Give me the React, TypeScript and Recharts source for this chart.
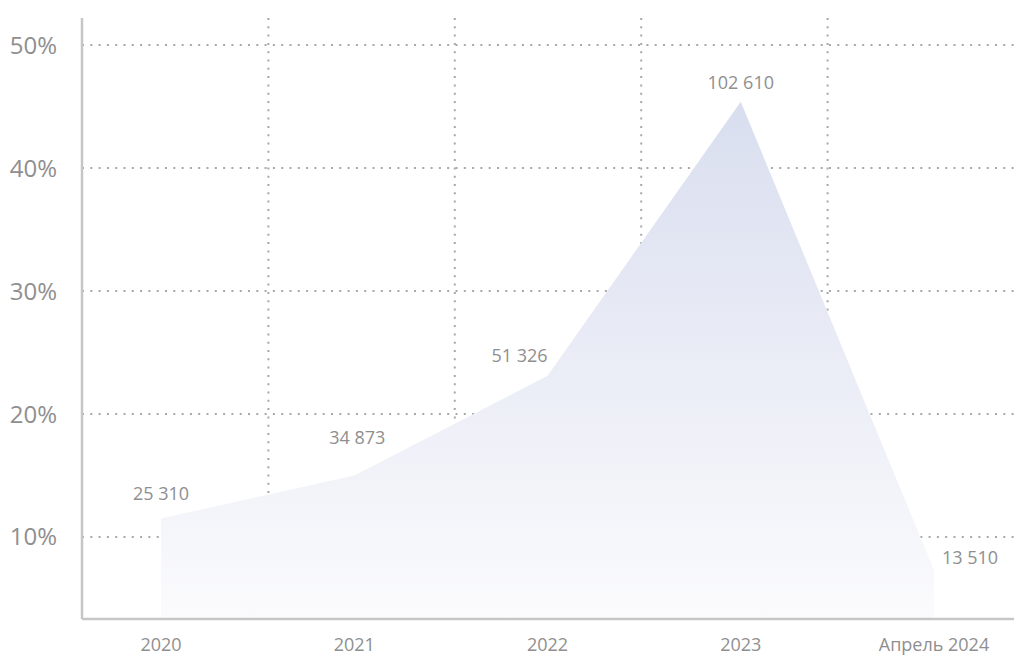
import React from 'react'
import {
  AreaChart,
  Area,
  XAxis,
  YAxis,
  CartesianGrid,
  LabelList,
} from 'recharts'

// periods on the x axis
const years = ['2020', '2021', '2022', '2023', 'Апрель 2024']
// share of total, %
const shares = [11.5, 15.0, 23.1, 45.4, 7.3]
// absolute counts shown above the points
const counts = [25310, 34873, 51326, 102610, 13510]
const yTicks = [10, 20, 30, 40, 50]
const yDomain = [3.33, 52.2]

const data = years.map((year, i) => ({
  year,
  share: shares[i],
  count: counts[i],
}))

const FONT = '"Open Sans", sans-serif'
const TEXT = '#8f8f8f'

// manual label nudges (the source chart has hand-placed labels)
const labelNudge: [number, number][] = [
  [0, -26],
  [3, -38],
  [-28, -21],
  [0, -20],
  [36, -13],
]

const fmt = (n: number) => String(n).replace(/\B(?=(\d{3})+(?!\d))/g, ' ')

const renderLabel = (props: any) => {
  const { x, y, value, index } = props
  const [dx, dy] = labelNudge[index] || [0, -20]
  return (
    <text
      x={x + dx}
      y={y + dy}
      textAnchor="middle"
      dominantBaseline="central"
      fill={TEXT}
      fontSize={18}
      fontFamily={FONT}
    >
      {fmt(value)}
    </text>
  )
}

// vertical grid lines sit on the borders between categories
const bandBorders = ({ offset }: any) => {
  const n = years.length
  const out: number[] = []
  for (let k = 1; k < n; k++) out.push(offset.left + (offset.width * k) / n)
  return out
}

// horizontal grid lines only at the labelled ticks
const tickRows = ({ yAxis, offset }: any) =>
  yTicks.map((v) =>
    yAxis && typeof yAxis.scale === 'function'
      ? yAxis.scale(v)
      : offset.top +
        (offset.height * (yDomain[1] - v)) / (yDomain[1] - yDomain[0])
  )

export default function App() {
  return (
    <div style={{ position: 'absolute', left: 0, top: 0, background: '#fff' }}>
      <AreaChart
        width={1018}
        height={657}
        data={data}
        margin={{ top: 18, right: 4, bottom: 0, left: 0 }}
      >
        <defs>
          <linearGradient id="shareFill" x1="0" y1="0" x2="0" y2="1">
            <stop offset="0%" stopColor="#d9deef" />
            <stop offset="100%" stopColor="#fbfbfd" />
          </linearGradient>
        </defs>
        <CartesianGrid
          stroke="#a8a8a8"
          strokeWidth={2}
          strokeDasharray="2 6.3"
          verticalCoordinatesGenerator={bandBorders}
          horizontalCoordinatesGenerator={tickRows}
        />
        <XAxis
          dataKey="year"
          height={38}
          padding={{ left: 79, right: 80 }}
          tickLine={false}
          tickSize={0}
          tickMargin={19}
          axisLine={{ stroke: '#c6c6c6', strokeWidth: 2.5 }}
          tick={{ fill: TEXT, fontSize: 18, fontFamily: FONT }}
          interval={0}
        />
        <YAxis
          width={82}
          type="number"
          domain={yDomain}
          ticks={yTicks}
          tickFormatter={(v: number) => `${v}%`}
          tickLine={false}
          tickSize={0}
          tickMargin={25}
          axisLine={{ stroke: '#c6c6c6', strokeWidth: 2.5 }}
          tick={{ fill: TEXT, fontSize: 24, fontFamily: FONT }}
          allowDataOverflow
        />
        <Area
          type="linear"
          dataKey="share"
          stroke="none"
          fill="url(#shareFill)"
          fillOpacity={1}
          isAnimationActive={false}
        >
          <LabelList dataKey="count" content={renderLabel} />
        </Area>
      </AreaChart>
    </div>
  )
}
